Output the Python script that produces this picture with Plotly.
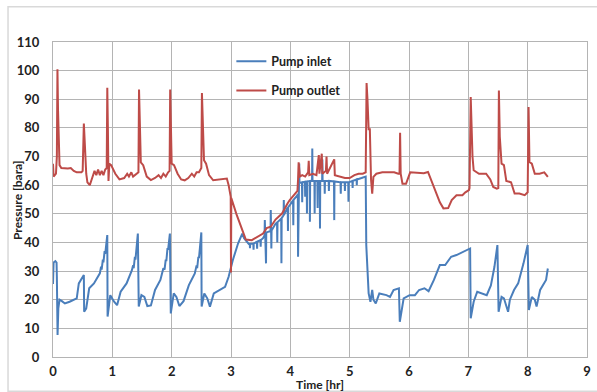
import plotly.graph_objects as go

# ---- data ----
inlet_t = [0.00, 0.01, 0.04, 0.06, 0.065, 0.077, 0.09, 0.11, 0.15, 0.20, 0.28, 0.35, 0.40, 0.435, 0.48, 0.52,
           0.525, 0.56, 0.61, 0.69, 0.79, 0.81, 0.82, 0.84, 0.85, 0.87, 0.88, 0.90, 0.915,
           0.92, 0.965, 1.03, 1.08, 1.14, 1.24, 1.33, 1.35, 1.36, 1.38, 1.39, 1.41, 1.43,
           1.445, 1.49, 1.54, 1.59, 1.65, 1.72, 1.81, 1.86, 1.88, 1.90, 1.91, 1.93, 1.94, 1.97,
           1.985, 2.035, 2.08, 2.13, 2.20, 2.29, 2.39, 2.42, 2.43, 2.45, 2.46, 2.48, 2.50,
           2.505, 2.55, 2.60, 2.645, 2.71, 2.80, 2.90, 2.96, 3.03, 3.12, 3.19, 3.22, 3.27, 3.30,
           3.316, 3.32, 3.324, 3.376, 3.38, 3.384, 3.436, 3.44, 3.444, 3.496, 3.50, 3.504, 3.54,
           3.566, 3.57, 3.574, 3.586, 3.59, 3.594, 3.60, 3.666, 3.67, 3.674, 3.676, 3.68, 3.684,
           3.75, 3.776, 3.78, 3.784, 3.846, 3.85, 3.854, 3.886, 3.89, 3.894, 3.95, 3.956, 3.96,
           3.964, 3.99, 4.046, 4.05, 4.054, 4.12, 4.126, 4.13, 4.134, 4.14, 4.146, 4.15, 4.154,
           4.196, 4.20, 4.204, 4.246, 4.25, 4.254, 4.276, 4.28, 4.284, 4.326, 4.33, 4.334,
           4.366, 4.37, 4.374, 4.406, 4.41, 4.414, 4.456, 4.46, 4.464, 4.496, 4.50, 4.504,
           4.536, 4.54, 4.544, 4.576, 4.58, 4.584, 4.646, 4.65, 4.654, 4.736, 4.74, 4.744,
           4.846, 4.85, 4.854, 4.916, 4.92, 4.924, 4.976, 4.98, 4.984, 5.046, 5.05, 5.054,
           5.116, 5.12, 5.124, 5.20, 5.27,
           5.28, 5.30, 5.32, 5.35, 5.38, 5.40, 5.44, 5.50, 5.62, 5.68, 5.74,
           5.83, 5.845, 5.91, 6.01, 6.10, 6.17, 6.26, 6.33, 6.42, 6.52, 6.61, 6.71, 6.80, 6.90,
           7.03, 7.04, 7.09, 7.15, 7.25, 7.31, 7.38, 7.44, 7.49, 7.51, 7.56, 7.60, 7.67, 7.70,
           7.77, 7.84, 7.93, 8.00, 8.02, 8.07, 8.12, 8.15, 8.21, 8.31, 8.34]
inlet_p = [25.5, 33.0, 33.5, 33.0, 28.0, 7.7, 17.0, 20.0, 19.5, 18.7, 19.3, 19.9, 20.5, 25.7, 27.4, 28.6,
           15.8, 17.0, 24.0, 25.7, 29.2, 31.5, 30.5, 34.0, 33.0, 37.0, 36.0, 41.0, 42.6,
           14.1, 21.6, 19.3, 18.1, 22.8, 25.7, 30.3, 32.0, 31.0, 35.0, 34.0, 39.0, 43.1,
           17.6, 21.6, 21.0, 17.8, 18.0, 23.4, 26.9, 31.0, 30.5, 34.0, 33.5, 38.0, 37.5, 43.1,
           15.2, 22.2, 21.0, 17.8, 19.5, 25.1, 29.2, 32.0, 31.0, 35.0, 34.5, 39.0, 43.5,
           17.6, 22.2, 20.5, 17.6, 22.2, 23.4, 24.5, 28.0, 33.8, 39.7, 43.1, 41.5, 40.0, 39.5,
           39.5, 38.0, 39.5, 39.6, 37.5, 39.7, 40.2, 37.8, 40.3, 40.8, 38.5, 40.9, 41.5,
           42.5, 47.8, 42.6, 42.8, 32.7, 43.0, 43.5, 44.0, 51.3, 44.0, 44.1, 37.9, 44.2,
           46.5, 47.0, 40.0, 47.1, 48.3, 32.7, 48.5, 49.5, 54.8, 49.7, 52.0, 52.2, 44.0,
           52.3, 53.0, 54.7, 46.0, 54.9, 56.5, 57.0, 35.0, 58.0, 60.0, 60.5, 67.6, 60.8,
           61.0, 54.0, 61.0, 61.2, 56.0, 61.2, 61.3, 50.1, 61.3, 61.5, 47.2, 61.5,
           61.5, 72.8, 61.5, 61.5, 50.1, 61.5, 61.5, 52.0, 61.5, 61.5, 44.9, 61.5,
           61.5, 69.0, 61.5, 61.5, 57.0, 61.5, 61.5, 58.0, 61.5, 61.3, 47.8, 61.3,
           61.0, 57.0, 61.0, 61.0, 58.0, 61.0, 61.0, 54.2, 61.0, 61.5, 59.0, 61.5,
           62.0, 60.0, 62.0, 62.5, 63.0,
           39.0, 28.0, 22.2, 19.3, 23.4, 20.0, 18.7, 22.2, 21.6, 21.0, 23.4,
           24.0, 12.3, 20.5, 21.6, 21.6, 23.4, 24.0, 23.0, 26.9, 32.1, 32.1, 35.0, 35.6, 36.7,
           37.9, 13.5, 19.3, 22.8, 22.2, 21.6, 25.0, 31.5, 39.1, 15.8, 21.0, 20.5, 15.8, 20.0,
           23.4, 25.7, 32.7, 39.1, 16.4, 21.0, 20.0, 17.6, 23.4, 26.9, 30.9]

outlet_t = [0.00, 0.01, 0.03, 0.05, 0.065, 0.075, 0.085, 0.095, 0.11, 0.14, 0.25, 0.30, 0.35, 0.40, 0.48,
            0.50, 0.52, 0.535, 0.56, 0.58, 0.62, 0.66, 0.70, 0.73, 0.76, 0.79, 0.82, 0.85, 0.88,
            0.905, 0.915, 0.925, 0.935, 0.95, 0.98, 1.05, 1.12, 1.20, 1.25, 1.28, 1.32, 1.35, 1.40,
            1.44, 1.45, 1.46, 1.48, 1.52, 1.58, 1.65, 1.72, 1.78, 1.82, 1.86, 1.90, 1.94, 1.965,
            1.975, 1.985, 2.00, 2.04, 2.10, 2.16, 2.22, 2.28, 2.34, 2.38, 2.42, 2.46, 2.50, 2.51,
            2.525, 2.545, 2.58, 2.63, 2.70, 2.80, 2.93, 2.96, 2.995, 3.00, 3.005, 3.09, 3.19, 3.25,
            3.35, 3.45, 3.54, 3.60, 3.67, 3.75, 3.86, 3.95, 3.99, 4.06, 4.12, 4.13, 4.14, 4.16,
            4.20, 4.25, 4.30, 4.31, 4.32, 4.38, 4.44, 4.48, 4.49, 4.53, 4.54, 4.60, 4.61, 4.62,
            4.74, 4.75, 4.85, 4.92, 5.00, 5.08, 5.15, 5.22, 5.27, 5.285, 5.30, 5.32, 5.34, 5.36,
            5.38, 5.40, 5.45, 5.55, 5.65, 5.75, 5.82, 5.84, 5.85, 5.86, 5.89, 5.95, 6.02, 6.15,
            6.25, 6.32, 6.37, 6.45, 6.52, 6.58, 6.66, 6.72, 6.80, 6.90, 6.95, 7.01, 7.02, 7.04,
            7.055, 7.07, 7.09, 7.18, 7.30, 7.37, 7.42, 7.48, 7.505, 7.515, 7.53, 7.56, 7.60, 7.64,
            7.72, 7.78, 7.86, 7.95, 8.00, 8.015, 8.03, 8.07, 8.12, 8.20, 8.28, 8.34]
outlet_p = [67.5, 63.0, 63.5, 64.0, 70.0, 100.5, 86.0, 74.0, 67.0, 66.0, 65.8, 66.0, 65.0, 64.5, 64.5,
            65.0, 81.5, 75.0, 64.0, 61.0, 60.0, 62.5, 65.0, 63.5, 65.5, 63.5, 65.0, 63.5, 65.5,
            66.0, 94.0, 80.0, 61.5, 67.5, 67.0, 64.0, 62.0, 62.5, 64.0, 63.0, 64.5, 63.0, 64.0,
            64.5, 93.4, 79.0, 68.0, 67.0, 63.0, 61.8, 62.5, 63.5, 62.5, 64.0, 63.0, 64.5, 65.0,
            93.4, 78.0, 67.5, 67.0, 64.0, 62.0, 61.7, 62.5, 64.0, 63.0, 64.5, 64.5, 66.0, 92.2,
            78.0, 68.7, 67.5, 63.5, 61.7, 62.0, 62.3, 60.0, 56.0, 29.5, 55.5, 50.0, 44.3, 41.0,
            40.8, 42.0, 43.1, 45.0, 45.5, 48.0, 50.1, 53.5, 54.8, 56.5, 58.0, 62.0, 68.0, 63.0,
            63.5, 63.0, 64.5, 68.5, 63.5, 64.0, 63.5, 70.5, 64.0, 71.0, 64.0, 65.0, 70.0, 64.0,
            69.0, 63.5, 63.0, 62.5, 62.5, 63.5, 64.0, 64.0, 64.5, 95.7, 90.0, 79.5, 79.5, 62.0,
            57.0, 62.9, 64.0, 64.5, 64.5, 64.5, 64.0, 64.0, 78.3, 64.0, 60.5, 60.5, 64.5, 64.3,
            64.2, 64.6, 62.0, 58.3, 54.0, 51.9, 52.0, 54.8, 56.5, 56.5, 57.5, 58.3, 59.0, 90.8,
            80.0, 70.0, 65.2, 64.0, 64.0, 62.0, 59.4, 58.8, 59.0, 93.1, 77.0, 67.5, 67.0, 61.5,
            61.0, 57.1, 57.1, 56.5, 57.5, 87.3, 68.1, 67.5, 64.0, 64.0, 64.5, 62.9]

x_ticks = [0, 1, 2, 3, 4, 5, 6, 7, 8, 9]
y_ticks = [0, 10, 20, 30, 40, 50, 60, 70, 80, 90, 100, 110]
x_title = "Time [hr]"
y_title = "Pressure [bara]"

FONT = "Lato"
grid = "#b4b4b4"
txt = "#222222"

fig = go.Figure()
fig.add_trace(go.Scatter(x=inlet_t, y=inlet_p, mode="lines", name="Pump inlet",
                         legendgroup="a", line=dict(color="#4a7ebb", width=2)))
fig.add_trace(go.Scatter(x=outlet_t, y=outlet_p, mode="lines", name="Pump outlet",
                         legendgroup="b", line=dict(color="#be4b48", width=2)))

fig.update_layout(
    width=597, height=392,
    margin=dict(l=52.5, r=10, t=42, b=35),
    paper_bgcolor="white", plot_bgcolor="white",
    font=dict(family=FONT, size=12, color=txt),
    showlegend=True,
    legend=dict(x=0.334, y=0.985, xanchor="left", yanchor="top",
                bgcolor="rgba(0,0,0,0)", tracegroupgap=10,
                font=dict(family=FONT, size=12.5, color=txt, weight="bold")),
    xaxis=dict(range=[0, 9], tickvals=x_ticks, ticktext=[str(v) for v in x_ticks],
               automargin=False,
               showgrid=True, gridcolor=grid, gridwidth=1,
               showline=True, linecolor=grid, linewidth=1, mirror=True,
               zeroline=False, ticks="", ticklabelstandoff=2,
               tickfont=dict(family=FONT, size=13, color=txt, weight="bold")),
    yaxis=dict(range=[0, 110], tickvals=y_ticks, ticktext=[str(v) for v in y_ticks],
               automargin=False,
               showgrid=True, gridcolor=grid, gridwidth=1,
               showline=True, linecolor=grid, linewidth=1, mirror=True,
               zeroline=False, ticks="", ticklabelstandoff=10,
               tickfont=dict(family=FONT, size=13, color=txt, weight="bold")),
)

# axis titles placed as in the reference
fig.add_annotation(text=x_title, xref="paper", yref="paper", x=0.5, y=-0.087,
                   xanchor="center", yanchor="middle", showarrow=False,
                   font=dict(family=FONT, size=12, color=txt, weight="bold"))
fig.add_annotation(text=y_title, xref="paper", yref="paper", x=-0.0664, y=0.497,
                   xanchor="center", yanchor="middle", showarrow=False, textangle=-90,
                   font=dict(family=FONT, size=12, color=txt, weight="bold"))

# chart-area border
fig.add_shape(type="rect", xref="paper", yref="paper",
              x0=-0.0842, x1=1.0346, y0=-0.109, y1=1.1117,
              line=dict(color="#d9d9d9", width=1.5), fillcolor="rgba(0,0,0,0)", layer="below")

fig.write_html("out.html")
